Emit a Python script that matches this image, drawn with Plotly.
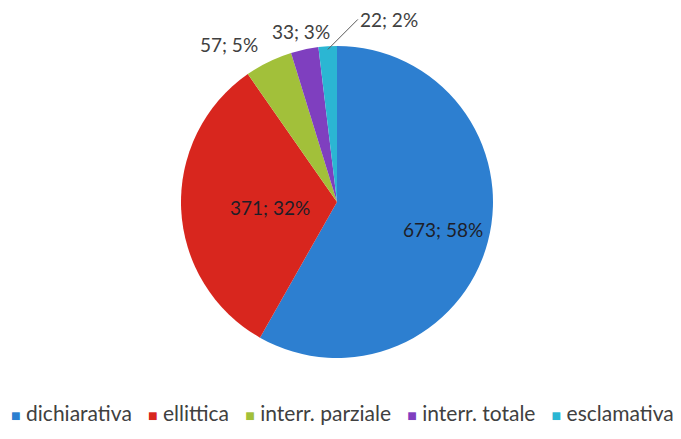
import math
import plotly.graph_objects as go

categories = ["dichiarativa", "ellittica", "interr. parziale", "interr. totale", "esclamativa"]
counts = [673, 371, 57, 33, 22]
colors = ["#2D7FD0", "#D8261E", "#A2C03A", "#7F3FBF", "#2BB6D3"]

W, H = 681, 439
# pie centre and radius in pixels (the page body adds an 8px offset)
cx, cy, r = 329, 194, 156

total = sum(counts)
labels_text = [f"{v}; {round(100 * v / total)}%" for v in counts]

fig = go.Figure()
fig.add_trace(
    go.Pie(
        labels=categories,
        values=counts,
        textinfo="none",
        marker=dict(colors=colors, line=dict(width=0)),
        sort=False,
        direction="clockwise",
        rotation=0,
        domain=dict(x=[(cx - r) / W, (cx + r) / W], y=[1 - (cy + r) / H, 1 - (cy - r) / H]),
        hoverinfo="label+value+percent",
        showlegend=False,
    )
)


def point(frac, k):
    # position at fraction of circle (clockwise from top), k * radius, in paper coords
    a = 2 * math.pi * frac
    px = cx + k * r * math.sin(a)
    py = cy - k * r * math.cos(a)
    return px / W, 1 - py / H


annotations = []
cum = 0
for i, v in enumerate(counts):
    mid = (cum + v / 2) / total
    cum += v
    share = v / total
    if share > 0.2:
        # inside label
        x, y = point(mid, 0.7)
        annotations.append(dict(x=x, y=y, xref="paper", yref="paper", text=labels_text[i],
                                showarrow=False, font=dict(size=19, color="#1e1e28")))
    elif share > 0.02:
        x, y = point(mid, 1.12)
        side = "right" if math.sin(2 * math.pi * mid) < -0.3 else "center"
        annotations.append(dict(x=x, y=y, xref="paper", yref="paper", text=labels_text[i],
                                xanchor=side, yanchor="middle", showarrow=False,
                                font=dict(size=19, color="#404040")))
    else:
        x, y = point(mid, 0.98)
        annotations.append(dict(x=x, y=y, xref="paper", yref="paper", text=labels_text[i],
                                xanchor="left", yanchor="middle", showarrow=True,
                                arrowhead=0, arrowwidth=1, arrowcolor="#595959",
                                ax=30, ay=-30, font=dict(size=19, color="#404040")))

# legend line
legend_parts = [
    f"<span style='color:{c};font-size:16px'>■</span> {name}"
    for name, c in zip(categories, colors)
]
annotations.append(dict(
    x=334.5 / W, y=1 - 404 / H, xref="paper", yref="paper",
    text="&nbsp;&nbsp; ".join(legend_parts),
    showarrow=False, xanchor="center", yanchor="middle",
    font=dict(size=21, color="#404040"),
))

fig.update_layout(
    width=W,
    height=H,
    margin=dict(l=0, r=0, t=0, b=0),
    paper_bgcolor="white",
    plot_bgcolor="white",
    font=dict(family="Lato, 'Open Sans', sans-serif", size=19, color="#404040"),
    annotations=annotations,
    showlegend=False,
)

fig.write_html("out.html")
